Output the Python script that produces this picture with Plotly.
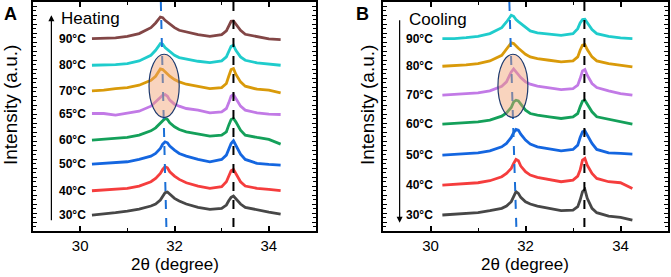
import plotly.graph_objects as go

# shared 2-theta grid (degree)
two_theta = [30.25, 30.5, 30.75, 31.0, 31.25, 31.5, 31.6, 31.7, 31.75, 31.8, 31.85, 31.9,
             32.0, 32.1, 32.25, 32.5, 32.75, 33.0, 33.1, 33.15, 33.2, 33.25, 33.3, 33.4,
             33.5, 33.75, 34.0, 34.25]

# Panel A (heating) intensities, offset stacked (a.u.)
heat_labels = ["30°C", "40°C", "50°C", "60°C", "65°C", "70°C", "80°C", "90°C"]
heat_30 = [48, 51, 55, 60, 66, 75, 81, 93, 103, 115, 117, 111, 98, 90, 81, 71, 65, 68, 78, 91, 101, 105, 97, 81, 71, 63, 57, 51]
heat_40 = [121, 123, 125, 128, 135, 148, 158, 173, 185, 193, 190, 178, 165, 155, 145, 135, 128, 133, 148, 163, 181, 185, 173, 148, 135, 128, 125, 121]
heat_50 = [201, 203, 205, 208, 215, 225, 233, 248, 261, 268, 265, 255, 243, 233, 225, 215, 208, 215, 228, 245, 263, 271, 258, 231, 215, 203, 200, 198]
heat_60 = [273, 275, 278, 281, 288, 301, 310, 325, 333, 338, 335, 325, 313, 305, 298, 291, 285, 288, 298, 318, 335, 338, 328, 303, 288, 281, 275, 261]
heat_65 = [353, 353, 348, 353, 360, 375, 388, 401, 408, 410, 405, 393, 381, 375, 368, 363, 355, 358, 368, 385, 405, 410, 398, 375, 363, 355, 351, 350]
heat_70 = [421, 423, 428, 431, 438, 453, 465, 487, 485, 478, 471, 465, 455, 448, 441, 435, 428, 431, 443, 465, 485, 488, 471, 448, 435, 426, 423, 415]
heat_80 = [498, 498, 500, 503, 511, 528, 543, 563, 561, 551, 545, 538, 528, 521, 516, 510, 506, 511, 523, 538, 555, 558, 543, 523, 513, 505, 501, 498]
heat_90 = [578, 578, 580, 585, 593, 611, 625, 643, 641, 633, 627, 621, 611, 603, 598, 590, 585, 590, 601, 615, 630, 631, 621, 603, 591, 583, 577, 575]

# Panel B (cooling)
cool_labels = ["30°C", "40°C", "50°C", "60°C", "70°C", "80°C", "90°C"]
cool_30 = [48, 50, 52, 55, 61, 68, 75, 88, 103, 118, 113, 101, 88, 81, 75, 68, 61, 63, 73, 93, 118, 125, 98, 68, 55, 45, 41, 33]
cool_40 = [138, 141, 143, 145, 151, 163, 173, 188, 203, 215, 211, 195, 178, 168, 161, 155, 148, 153, 165, 183, 213, 218, 198, 173, 158, 148, 145, 128]
cool_50 = [228, 231, 233, 235, 241, 253, 263, 281, 295, 305, 303, 291, 273, 261, 253, 246, 241, 245, 258, 281, 298, 301, 288, 263, 245, 235, 233, 231]
cool_60 = [321, 323, 325, 328, 333, 345, 355, 371, 388, 393, 391, 381, 363, 353, 348, 343, 338, 343, 353, 373, 390, 393, 381, 358, 343, 335, 328, 321]
cool_70 = [408, 410, 412, 415, 421, 435, 448, 478, 487, 478, 468, 461, 448, 441, 435, 431, 425, 428, 438, 458, 481, 485, 468, 443, 431, 421, 413, 408]
cool_80 = [495, 496, 499, 503, 511, 528, 545, 565, 563, 555, 549, 543, 531, 523, 518, 513, 508, 511, 523, 543, 558, 560, 545, 523, 511, 503, 497, 493]
cool_90 = [578, 578, 581, 585, 593, 611, 628, 648, 645, 635, 629, 623, 611, 601, 595, 591, 588, 593, 608, 625, 635, 636, 625, 605, 593, 585, 580, 578]

heat_series = [heat_30, heat_40, heat_50, heat_60, heat_65, heat_70, heat_80, heat_90]
cool_series = [cool_30, cool_40, cool_50, cool_60, cool_70, cool_80, cool_90]

heat_colors = ["#474747", "#f53d3d", "#1466e0", "#14a05a", "#c27ae6", "#d99a0a", "#1fcccc", "#824646"]
cool_colors = ["#474747", "#f53d3d", "#1466e0", "#14a05a", "#c27ae6", "#d99a0a", "#1fcccc"]

# reference peak positions (degree): [top, bottom]
blue_line_A = [31.71, 31.83]
blue_line_B = [31.66, 31.81]
black_line_A = 33.25
black_line_B = 33.24

FONT = "Liberation Sans, Arial, sans-serif"
YMAX = 688

fig = go.Figure()

for ys, c in zip(heat_series, heat_colors):
    fig.add_trace(go.Scatter(x=two_theta, y=ys, mode="lines", line=dict(color=c, width=2.8),
                             xaxis="x", yaxis="y", showlegend=False, hoverinfo="skip"))
for ys, c in zip(cool_series, cool_colors):
    fig.add_trace(go.Scatter(x=two_theta, y=ys, mode="lines", line=dict(color=c, width=2.8),
                             xaxis="x2", yaxis="y2", showlegend=False, hoverinfo="skip"))

ax_common = dict(range=[29, 35], tick0=30, dtick=2, ticks="inside", ticklen=5, tickwidth=1.5,
                 tickcolor="black", showline=True, linecolor="black", linewidth=2, mirror="ticks",
                 showgrid=False, zeroline=False,
                 tickfont=dict(family=FONT, size=15, color="black"),
                 minor=dict(dtick=1, ticks="inside", ticklen=3, tickwidth=1.2, tickcolor="black"))
ay_common = dict(range=[0, YMAX], tick0=0, dtick=27, ticks="inside", ticklen=4, tickwidth=1.2,
                 tickcolor="black", showline=True, linecolor="black", linewidth=2, mirror="ticks",
                 showgrid=False, zeroline=False, showticklabels=False,
                 minor=dict(dtick=13.5, ticks="inside", ticklen=3, tickwidth=1, tickcolor="black"))

ydom = [1 - 231 / 277, 1 - 2 / 277]
fig.update_layout(
    width=671, height=277, margin=dict(l=0, r=0, t=0, b=0),
    paper_bgcolor="white", plot_bgcolor="white",
    xaxis=dict(domain=[33 / 671, 316 / 671], anchor="y", **ax_common),
    yaxis=dict(domain=ydom, anchor="x", **ay_common),
    xaxis2=dict(domain=[383 / 671, 668 / 671], anchor="y2", **ax_common),
    yaxis2=dict(domain=ydom, anchor="x2", **ay_common),
)

shapes = []
for xa, ya, bl, kl in [("x", "y", blue_line_A, black_line_A), ("x2", "y2", blue_line_B, black_line_B)]:
    shapes.append(dict(type="line", xref=xa, yref=ya, x0=bl[0], y0=YMAX, x1=bl[1], y1=0,
                       line=dict(color="#1a6fd6", width=2, dash="dash")))
    shapes.append(dict(type="line", xref=xa, yref=ya, x0=kl, y0=YMAX, x1=kl, y1=0,
                       line=dict(color="black", width=2, dash="dash")))
shapes.append(dict(type="circle", xref="x", yref="y", x0=31.46, x1=32.1, y0=341, y1=531,
                   fillcolor="rgba(241,160,110,0.45)", line=dict(color="#1e3a6e", width=1.2)))
shapes.append(dict(type="circle", xref="x2", yref="y2", x0=31.42, x1=32.05, y0=341, y1=531,
                   fillcolor="rgba(241,160,110,0.45)", line=dict(color="#1e3a6e", width=1.2)))
fig.update_layout(shapes=shapes)

ann = []
for lab, ys in zip(heat_labels, heat_series):
    ann.append(dict(x=30.17, y=ys[0], xref="x", yref="y", text=f"<b>{lab}</b>", showarrow=False,
                    xanchor="right", yanchor="middle", font=dict(family=FONT, size=12, color="black")))
for lab, ys in zip(cool_labels, cool_series):
    ann.append(dict(x=30.1, y=ys[0], xref="x2", yref="y2", text=f"<b>{lab}</b>", showarrow=False,
                    xanchor="right", yanchor="middle", font=dict(family=FONT, size=12, color="black")))

# arrows
ann.append(dict(x=29.39, y=648, ax=29.39, ay=28, xref="x", yref="y", axref="x", ayref="y",
                text="", showarrow=True, arrowhead=2, arrowsize=1, arrowwidth=1.2, arrowcolor="black"))
ann.append(dict(x=29.35, y=25, ax=29.35, ay=638, xref="x2", yref="y2", axref="x2", ayref="y2",
                text="", showarrow=True, arrowhead=2, arrowsize=1, arrowwidth=1.2, arrowcolor="black"))

ann.append(dict(x=29.56, y=639, xref="x", yref="y", text="Heating", showarrow=False, xanchor="left",
                yanchor="middle", font=dict(family=FONT, size=17, color="black")))
ann.append(dict(x=29.51, y=635, xref="x2", yref="y2", text="Cooling", showarrow=False, xanchor="left",
                yanchor="middle", font=dict(family=FONT, size=17, color="black")))

# panel letters
ann.append(dict(x=10 / 671, y=1 - 14 / 277, xref="paper", yref="paper", text="<b>A</b>", showarrow=False,
                xanchor="center", yanchor="middle", font=dict(family=FONT, size=18, color="black")))
ann.append(dict(x=362.5 / 671, y=1 - 14 / 277, xref="paper", yref="paper", text="<b>B</b>", showarrow=False,
                xanchor="center", yanchor="middle", font=dict(family=FONT, size=18, color="black")))

# axis titles
for xc in [175 / 671, 525 / 671]:
    ann.append(dict(x=xc, y=1 - 264 / 277, xref="paper", yref="paper", text="2θ (degree)", showarrow=False,
                    xanchor="center", yanchor="middle", font=dict(family=FONT, size=17, color="black")))
for xc in [10 / 671, 367 / 671]:
    ann.append(dict(x=xc, y=1 - 105 / 277, xref="paper", yref="paper", text="Intensity (a.u.)",
                    showarrow=False, textangle=-90, xanchor="center", yanchor="middle",
                    font=dict(family=FONT, size=19, color="black")))

fig.update_layout(annotations=ann)
fig.write_html("out.html", config={"displayModeBar": False},
               post_script="document.body.style.margin='0px';document.body.style.overflow='hidden';")
